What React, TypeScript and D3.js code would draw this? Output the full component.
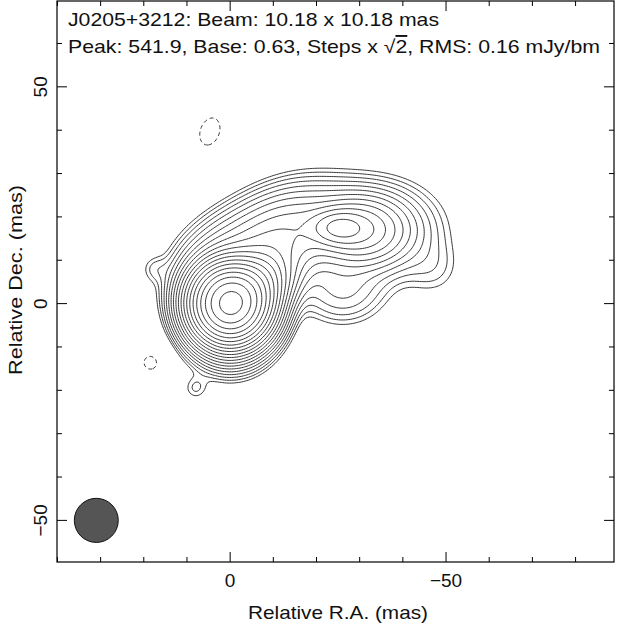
import React from 'react';
import * as d3 from 'd3';

const width = 620;
const height = 630;
const plotLeft = 57;
const plotRight = 614;
const plotTop = 1;
const plotBottom = 562;

// map extent in mas (R.A. runs right to left)
const raRange = [40.1, -88.9];
const decRange = [-59.6, 69.8];

const sourceName = 'J0205+3212';
const beamSize = [10.18, 10.18];
const beamCentre = [31, -50];
const peakFlux = 541.9;
const baseLevel = 0.63;
const rmsNoise = 0.16;
const levelCount = 20;

// gaussian components: ra, dec (mas), peak (mJy/bm), fwhm major, fwhm minor (mas), pa (deg)
const components = [
  [0, 0, 510, 10.4, 10.4, 0], // core
  [0, -6, 10, 12, 12, 0],
  [-5, 4, 55, 12, 9, -55], // inner jet
  [3, 10, 6, 16, 11, -50],
  [-11, 15, 14, 20, 13, -62], // bridge
  [-25, 17.5, 18, 9, 5.5, 90], // knot
  [-30, 17, 16, 14, 10, 90],
  [-33, 17, 4.5, 20.5, 15, 90],
  [-26, 3, 2.5, 14, 11, 90],
  [-47, 8, 0.8, 10, 10, 0],
  [17.5, 8, 0.8, 5, 5, 0],
  [8, -19.5, 0.9, 4.5, 4.5, 0],
  [4.7, 39.7, -0.8, 11, 7.5, -20],
  [18.4, -13.6, -0.7, 8, 8, 0],
];

const majorTicks = [-50, 0, 50];
const minorTicks = [-80, -70, -60, -40, -30, -20, -10, 10, 20, 30, 40, 60];

const gridStep = 0.4;

function fluxAt(ra: number, dec: number) {
  let s = 0;
  for (const [cr, cd, f, maj, min, pa] of components) {
    const t = (pa * Math.PI) / 180;
    const dr = ra - cr;
    const dd = dec - cd;
    const a = dr * Math.sin(t) + dd * Math.cos(t);
    const b = dr * Math.cos(t) - dd * Math.sin(t);
    s += f * Math.exp(-4 * Math.LN2 * ((a / maj) ** 2 + (b / min) ** 2));
  }
  return s;
}

const fmt = (v: number) => (v < 0 ? '\u2212' + Math.abs(v) : String(v));

export default function App() {
  const x = d3.scaleLinear().domain(raRange).range([plotLeft, plotRight]);
  const y = d3.scaleLinear().domain(decRange).range([plotBottom, plotTop]);

  const { posPaths, negPaths } = React.useMemo(() => {
    const nx = Math.round((raRange[0] - raRange[1]) / gridStep) + 1;
    const ny = Math.round((decRange[1] - decRange[0]) / gridStep) + 1;
    const pos = new Float64Array(nx * ny);
    const neg = new Float64Array(nx * ny);
    for (let j = 0; j < ny; j++) {
      const dec = decRange[1] - j * gridStep;
      for (let i = 0; i < nx; i++) {
        const v = fluxAt(raRange[0] - i * gridStep, dec);
        pos[j * nx + i] = v;
        neg[j * nx + i] = -v;
      }
    }
    const proj = d3.geoTransform({
      point(px: number, py: number) {
        const ra = raRange[0] - (px - 0.5) * gridStep;
        const dec = decRange[1] - (py - 0.5) * gridStep;
        (this as any).stream.point(x(ra), y(dec));
      },
    });
    const path = d3.geoPath(proj);
    const levels = d3.range(levelCount).map((k) => baseLevel * Math.SQRT2 ** k);
    const posPaths = d3
      .contours()
      .size([nx, ny])
      .thresholds(levels)(Array.from(pos))
      .map((c) => path(c) || '');
    const negPaths = d3
      .contours()
      .size([nx, ny])
      .thresholds([baseLevel])(Array.from(neg))
      .map((c) => path(c) || '');
    return { posPaths, negPaths };
  }, []);

  const beamRx = Math.abs(x(beamCentre[0] + beamSize[1] / 2) - x(beamCentre[0]));
  const beamRy = Math.abs(y(beamCentre[1] + beamSize[0] / 2) - y(beamCentre[1]));

  const font = "'Liberation Sans', Arial, sans-serif";
  const allX = [...majorTicks, ...minorTicks].filter((v) => v <= raRange[0] && v >= raRange[1]);
  const allY = [...majorTicks, ...minorTicks].filter((v) => v >= decRange[0] && v <= decRange[1]);

  return (
    <svg width={width} height={height} style={{ position: 'absolute', left: 0, top: 0 }}>
      <rect width={width} height={height} fill="#fff" />
      <defs>
        <clipPath id="plot">
          <rect x={plotLeft} y={plotTop} width={plotRight - plotLeft} height={plotBottom - plotTop} />
        </clipPath>
      </defs>
      <g clipPath="url(#plot)" fill="none" stroke="#222" strokeWidth={0.9}>
        {posPaths.map((d, i) => (
          <path key={'p' + i} d={d} />
        ))}
        {negPaths.map((d, i) => (
          <path key={'n' + i} d={d} strokeDasharray="4,3" />
        ))}
      </g>
      <ellipse
        cx={x(beamCentre[0])}
        cy={y(beamCentre[1])}
        rx={beamRx}
        ry={beamRy}
        fill="#555"
        stroke="#111"
        strokeWidth={1}
      />
      <rect
        x={plotLeft}
        y={plotTop}
        width={plotRight - plotLeft}
        height={plotBottom - plotTop}
        fill="none"
        stroke="#000"
        strokeWidth={1.2}
      />
      <g stroke="#000" strokeWidth={1}>
        {allX.map((v) => {
          const len = majorTicks.includes(v) ? 10 : 5;
          return (
            <g key={'xt' + v}>
              <line x1={x(v)} x2={x(v)} y1={plotBottom} y2={plotBottom - len} />
              <line x1={x(v)} x2={x(v)} y1={plotTop} y2={plotTop + len} />
            </g>
          );
        })}
        {allY.map((v) => {
          const len = majorTicks.includes(v) ? 10 : 5;
          return (
            <g key={'yt' + v}>
              <line y1={y(v)} y2={y(v)} x1={plotLeft} x2={plotLeft + len} />
              <line y1={y(v)} y2={y(v)} x1={plotRight} x2={plotRight - len} />
            </g>
          );
        })}
      </g>
      <g fontFamily={font} fontSize={19} fill="#111">
        {majorTicks
          .filter((v) => v <= raRange[0] && v >= raRange[1])
          .map((v) => (
            <text key={'xl' + v} x={x(v)} y={587} textAnchor="middle">
              {fmt(v)}
            </text>
          ))}
        {majorTicks.map((v) => (
          <text
            key={'yl' + v}
            transform={`translate(47,${y(v)}) rotate(-90)`}
            textAnchor="middle"
          >
            {fmt(v)}
          </text>
        ))}
        <text
          x={338}
          y={619}
          textAnchor="middle"
          textLength={180}
          lengthAdjust="spacingAndGlyphs"
        >
          Relative R.A. (mas)
        </text>
        <text
          transform={`translate(22,280) rotate(-90)`}
          textAnchor="middle"
          textLength={190}
          lengthAdjust="spacingAndGlyphs"
        >
          Relative Dec. (mas)
        </text>
      </g>
      <g fontFamily={font} fontSize={19} fill="#111">
        <text x={68} y={26} textLength={371} lengthAdjust="spacingAndGlyphs">
          {`${sourceName}: Beam: ${beamSize[0].toFixed(2)} x ${beamSize[1].toFixed(2)} mas`}
        </text>
        <text x={68} y={53} textLength={532} lengthAdjust="spacingAndGlyphs">
          <tspan>{`Peak: ${peakFlux}, Base: ${baseLevel}, Steps x `}</tspan>
          <tspan>{'\u221A'}</tspan>
          <tspan style={{ textDecoration: 'overline' }}>2</tspan>
          <tspan>{`, RMS: ${rmsNoise} mJy/bm`}</tspan>
        </text>
      </g>
    </svg>
  );
}
